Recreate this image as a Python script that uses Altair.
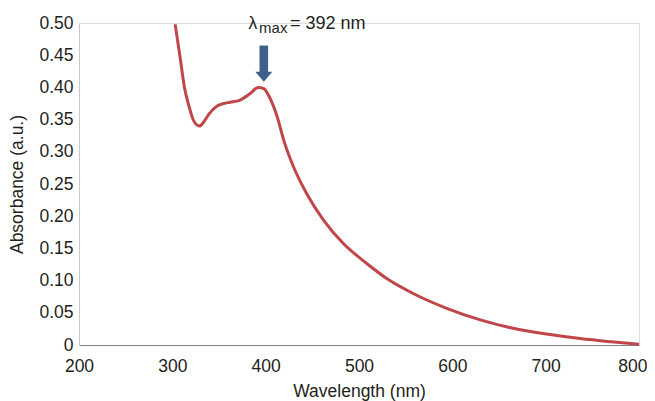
import altair as alt
import pandas as pd

wavelength = [303, 308, 313, 318, 323, 329, 334, 339, 348, 355, 362, 372, 383, 392,
              398, 404, 412, 420, 430, 444, 462, 483, 508, 531, 558, 594, 630, 665,
              701, 737, 770, 800]
absorbance = [0.498, 0.45, 0.40, 0.37, 0.348, 0.340, 0.347, 0.358, 0.371, 0.375, 0.377,
              0.380, 0.390, 0.400, 0.398, 0.385, 0.356, 0.315, 0.276, 0.235, 0.194,
              0.158, 0.127, 0.102, 0.080, 0.057, 0.039, 0.026, 0.017, 0.010, 0.005, 0.001]

y_ticks = [0, 0.05, 0.1, 0.15, 0.2, 0.25, 0.3, 0.35, 0.4, 0.45, 0.5]
x_ticks = [200, 300, 400, 500, 600, 700, 800]

arrow_x = [398]
arrow_top = [0.465]
arrow_shaft_end = [0.4236]
arrow_head = [0.4165]

ann_text = ["λ", "max", "= 392 nm"]
ann_x = [381.5, 392.9, 426.1]
ann_y = [0.491, 0.4837, 0.491]
ann_size = [17.5, 15, 18]

FONT = "Liberation Sans"
LINE = "#c1464a"
ARROW = "#3c5f8e"

df = pd.DataFrame({"w": wavelength, "a": absorbance})
xs = alt.Scale(domain=[200, 800], nice=False)
ys = alt.Scale(domain=[0, 0.5], nice=False)

x_axis = alt.Axis(values=x_ticks, ticks=False, grid=False, domainColor="#7f7f7f",
                  labelFlush=False, labelOverlap=False, labelBound=False,
                  labelAlign=alt.condition("datum.value == 800", alt.value("right"), alt.value("center")),
                  labelOffset=alt.condition("datum.value == 800", alt.value(8), alt.value(0)),
                  labelFontSize=17.5, labelPadding=12, labelColor="#231f20",
                  labelFont=FONT, titleFont=FONT, titleFontSize=17.5,
                  titleFontWeight="normal", titleColor="#231f20", titlePadding=8)
y_axis = alt.Axis(values=y_ticks, tickCount=11, ticks=False, grid=False, domainColor="#c8c8c8",
                  labelFlush=False, labelOverlap=False, labelBound=False,
                  labelExpr="datum.value == 0 ? '0' : format(datum.value, '.2f')",
                  labelFontSize=17.5, labelPadding=6, labelColor="#231f20",
                  labelFont=FONT, titleFont=FONT, titleFontSize=17.5,
                  titleFontWeight="normal", titleColor="#231f20", titlePadding=12)


def X(field):
    return alt.X(field, scale=xs, title="Wavelength (nm)", axis=x_axis)


def Y(field):
    return alt.Y(field, scale=ys, title="Absorbance (a.u.)", axis=y_axis)


line = alt.Chart(df).mark_line(color=LINE, strokeWidth=3, interpolate="monotone").encode(
    x=X("w:Q"), y=Y("a:Q"))

adf = pd.DataFrame({"x": arrow_x, "y1": arrow_top, "y2": arrow_shaft_end, "yh": arrow_head})
shaft = alt.Chart(adf).mark_rule(color=ARROW, strokeWidth=8.6).encode(
    x=X("x:Q"), y=Y("y1:Q"), y2="y2:Q")
head = alt.Chart(adf).mark_point(shape="M-1,-0.6L1,-0.6L0,0.6Z", filled=True, opacity=1,
                                 color=ARROW, size=289, strokeWidth=0).encode(
    x=X("x:Q"), y=Y("yh:Q"))

tdf = pd.DataFrame({"t": ann_text, "x": ann_x, "y": ann_y, "s": ann_size})
text = alt.Chart(tdf).mark_text(align="left", baseline="alphabetic", font=FONT,
                                color="#231f20").encode(
    x=X("x:Q"), y=Y("y:Q"), text="t:N",
    size=alt.Size("s:Q", scale=None, legend=None))

chart = alt.layer(line, shaft, head, text).properties(
    width=560, height=322,
    autosize=alt.AutoSizeParams(type="none"),
    padding={"left": 71, "top": 15, "right": 8, "bottom": 60},
).configure_view(stroke=None).configure(background="white")

chart.save("out.html", embed_options={"renderer": "svg", "actions": False})
